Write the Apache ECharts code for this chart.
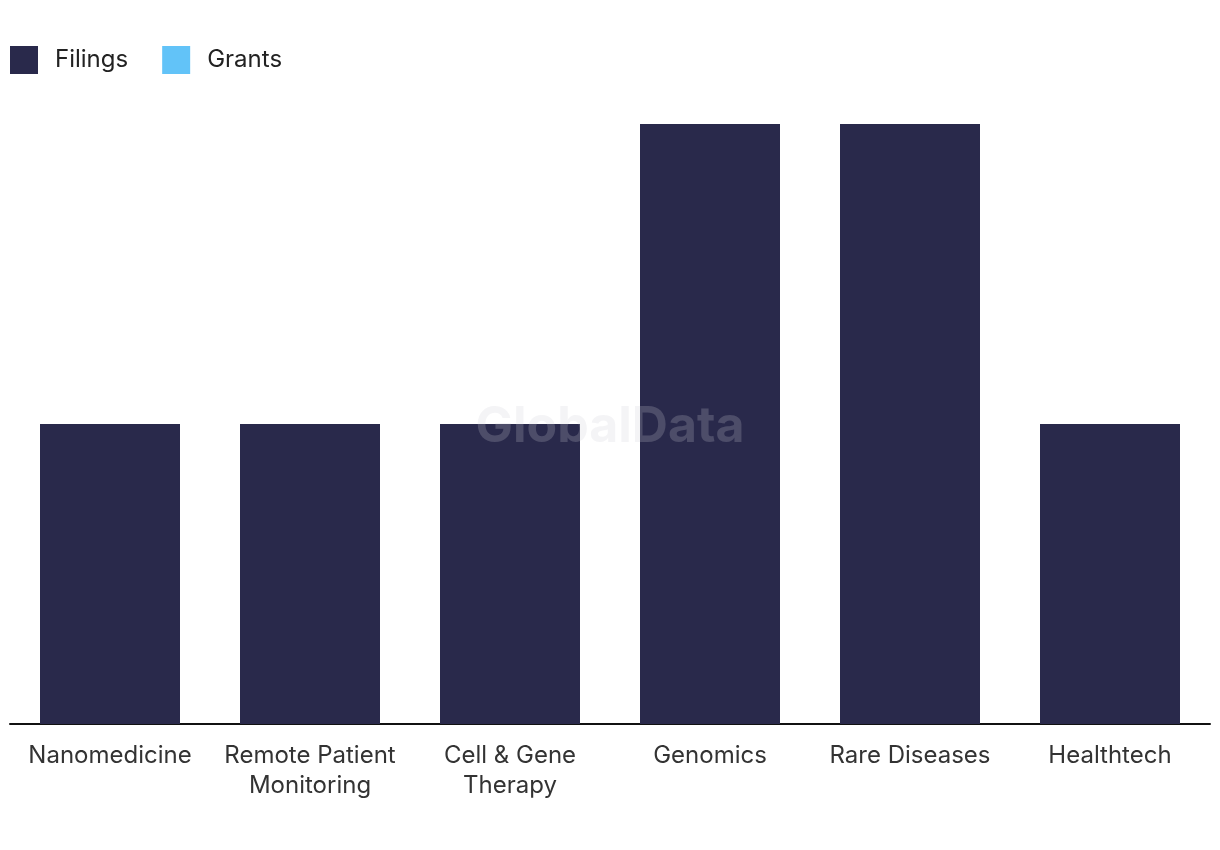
<!DOCTYPE html>
<html><head><meta charset="utf-8">
<script src="https://cdn.jsdelivr.net/npm/echarts@6/dist/echarts.min.js"></script>
<style>html,body{margin:0;padding:0;background:#fff}#c{width:1220px;height:850px}</style>
</head><body><div id="c"></div>
<script>
const categories = ['Nanomedicine', 'Remote Patient\nMonitoring', 'Cell & Gene\nTherapy', 'Genomics', 'Rare Diseases', 'Healthtech'];
const filings = [1, 1, 1, 2, 2, 1];
const grants = [0, 0, 0, 0, 0, 0];
const seriesNames = ['Filings', 'Grants'];
const colors = ['#29294b', '#62c3f8'];

const chart = echarts.init(document.getElementById('c'));
chart.setOption({
  animation: false,
  color: colors,
  textStyle: { fontFamily: 'Inter, sans-serif' },
  legend: {
    left: 5, top: 41, itemWidth: 28, itemHeight: 28, itemGap: 34,
    icon: 'rect',
    textStyle: { fontSize: 24, color: '#222', padding: [0, 0, 0, 12] },
    data: seriesNames
  },
  grid: { left: 10, right: 10, top: 124, bottom: 126, containLabel: false },
  xAxis: {
    type: 'category', data: categories,
    axisLine: { lineStyle: { color: '#111', width: 2 } },
    axisTick: { show: false },
    axisLabel: { fontSize: 24, color: '#333', margin: 17, lineHeight: 30, interval: 0 }
  },
  yAxis: {
    type: 'value', min: 0, max: 2, interval: 1,
    axisLabel: { show: false }, splitLine: { show: false },
    axisLine: { show: false }, axisTick: { show: false }
  },
  series: [
    { name: seriesNames[0], type: 'bar', stack: 's', data: filings, barWidth: '70%' },
    { name: seriesNames[1], type: 'bar', stack: 's', data: grants, barWidth: '70%' }
  ],
  graphic: [{
    type: 'text', left: 'center', top: 402, z: 100,
    style: { text: 'GlobalData', fontSize: 50, fontWeight: 'bold', fill: 'rgba(205,205,212,0.22)', fontFamily: 'Inter, sans-serif' }
  }]
});
</script></body></html>
